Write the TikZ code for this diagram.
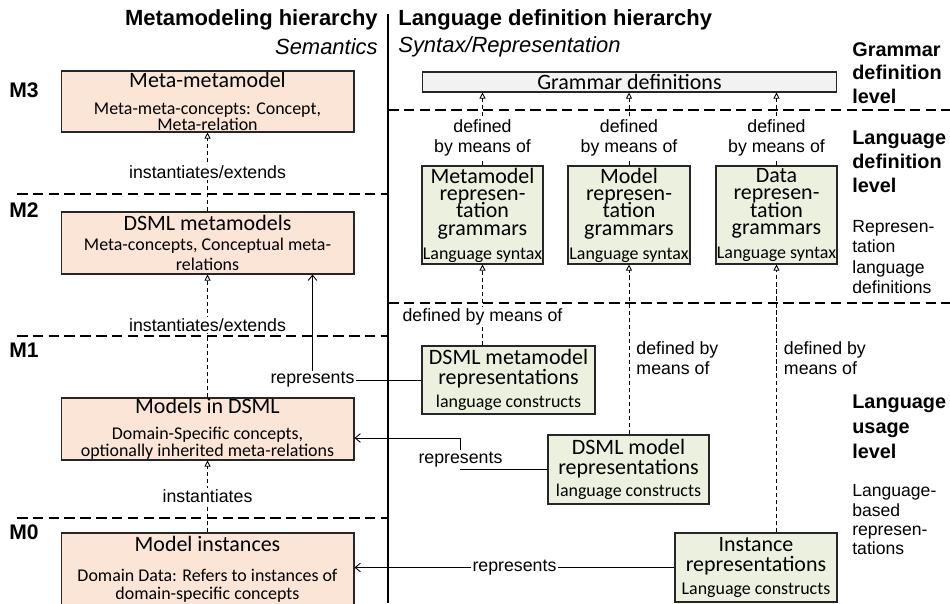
\documentclass[tikz,border=0pt]{standalone}
\usepackage{fontspec}
\setmainfont{Liberation Sans}
\newfontfamily\calibri{Carlito}
\usepackage{xcolor}
\usetikzlibrary{arrows.meta, calc}
\definecolor{peach}{HTML}{FBE5D6}
\definecolor{sage}{HTML}{EBF1DE}
\definecolor{lgray}{HTML}{F2F2F2}
\newcommand{\tightfont}[1]{\fontsize{#1}{0pt}\selectfont\lineskiplimit=-\maxdimen}
\newcommand{\bigtxt}[1]{{\fontsize{12.5pt}{0pt}\selectfont #1}}

\begin{document}
\begin{tikzpicture}[x=0.02cm, y=-0.02cm,
  semb/.style={draw=black!85, line width=0.6pt, fill=peach, inner sep=0pt,
    minimum width=5.86cm, align=center, font=\calibri\tightfont{10.2pt}},
  synb/.style={draw=black!85, line width=0.6pt, fill=sage, inner sep=0pt,
    align=center, font=\calibri\tightfont{10.2pt}},
  lab/.style={font=\tightfont{10.1pt}, align=center, inner sep=1pt},
  wlab/.style={lab, fill=white},
  head/.style={font=\fontsize{12.5pt}{15pt}\selectfont, inner sep=0pt},
  mlevel/.style={font=\fontsize{12pt}{14pt}\selectfont\bfseries, anchor=west, inner sep=0pt},
  sidebold/.style={font=\tightfont{11.3pt}\bfseries, align=left, anchor=west, inner sep=0pt},
  sidereg/.style={font=\tightfont{10pt}, align=left, anchor=west, inner sep=0pt},
  levelline/.style={dash pattern=on 6pt off 3pt, line width=0.8pt},
  dasharrow/.style={dash pattern=on 2.5pt off 1.5pt, line width=0.5pt,
    -{Triangle[open, length=3.5pt, width=3.5pt]}},
  repr/.style={line width=0.5pt, -{Straight Barb[length=3pt, width=5pt]}}]

\useasboundingbox (0,0) rectangle (950,603);

\node[head, font=\fontsize{12.5pt}{15pt}\selectfont\bfseries, anchor=east] (mhead) at (378,20) {Metamodeling hierarchy};
\node[head, font=\fontsize{12.5pt}{15pt}\selectfont\itshape, anchor=east] (msub) at (378,47) {Semantics};
\node[head, font=\fontsize{12.5pt}{15pt}\selectfont\bfseries, anchor=west] (lhead) at (398,20) {Language definition hierarchy};
\node[head, font=\fontsize{12.5pt}{15pt}\selectfont\itshape, anchor=west] (lsub) at (398,47) {Syntax/Representation};

\draw[line width=1pt] (388,14) -- (388,603);
\draw[levelline] (17,194) -- (388,194);
\draw[levelline] (17,336) -- (388,336);
\draw[levelline] (17,518) -- (388,518);
\draw[levelline] (388,110) -- (950,110);
\draw[levelline] (388,303) -- (950,303);

\node[mlevel] (m3) at (9,90) {M3};
\node[mlevel] (m2) at (9,210) {M2};
\node[mlevel] (m1) at (9,350) {M1};
\node[mlevel] (m0) at (9,532) {M0};

\node[sidebold] (glev) at (852,73) {Grammar\\[13.3pt]definition\\[13.3pt]level};
\node[sidebold] (ldlev) at (852,162) {Language\\[13.6pt]definition\\[13.6pt]level};
\node[sidereg] (ldtxt) at (852,257) {Represen-\\[11.5pt]tation\\[11.5pt]language\\[11.5pt]definitions};
\node[sidebold] (lulev) at (852,427) {Language\\[14.2pt]usage\\[14.2pt]level};
\node[sidereg] (lutxt) at (852,520) {Language-\\[11pt]based\\[11pt]represen-\\[11pt]tations};

\node[semb, minimum height=1.22cm] (mmm) at (207.5,101.5) {\bigtxt{Meta-metamodel}\\[15.3pt]Meta-meta-concepts: Concept,\\[9pt]Meta-relation};
\node[semb, minimum height=1.24cm] (dsmm) at (207.5,243) {\bigtxt{DSML metamodels}\\[11.3pt]Meta-concepts, Conceptual meta-\\[11.3pt]relations};
\node[semb, minimum height=1.24cm] (mdsml) at (207.5,429) {\bigtxt{Models in DSML}\\[14.7pt]Domain-Specific concepts,\\[9.6pt]optionally inherited meta-relations};
\node[semb, minimum height=1.44cm] (minst) at (207.5,569) {\bigtxt{Model instances}\\[17pt]Domain Data: Refers to instances of\\[10.2pt]domain-specific concepts};

\node[draw=black!85, line width=0.6pt, fill=lgray, inner sep=0pt, minimum width=8.3cm, minimum height=0.4cm,
  font=\calibri\fontsize{12.5pt}{15pt}\selectfont] (gram) at (629.5,82) {Grammar definitions};
\node[synb, minimum width=2.42cm, minimum height=1.96cm] (g1) at (482.5,215)
  {\bigtxt{Metamodel}\\[9.9pt]\bigtxt{represen-}\\[9.9pt]\bigtxt{tation}\\[9.9pt]\bigtxt{grammars}\\[13.6pt]Language syntax};
\node[synb, minimum width=2.44cm, minimum height=1.96cm] (g2) at (629,215)
  {\bigtxt{Model}\\[9.9pt]\bigtxt{represen-}\\[9.9pt]\bigtxt{tation}\\[9.9pt]\bigtxt{grammars}\\[13.6pt]Language syntax};
\node[synb, minimum width=2.42cm, minimum height=1.96cm] (g3) at (776.5,215)
  {\bigtxt{Data}\\[9.9pt]\bigtxt{represen-}\\[9.9pt]\bigtxt{tation}\\[9.9pt]\bigtxt{grammars}\\[13.6pt]Language syntax};

\node[synb, minimum width=3.46cm, minimum height=1.36cm] (rmm) at (508.5,380)
  {\bigtxt{DSML metamodel}\\[11.3pt]\bigtxt{representations}\\[13pt]language constructs};
\node[synb, minimum width=3.22cm, minimum height=1.38cm] (rmod) at (628.5,469.5)
  {\bigtxt{DSML model}\\[11.3pt]\bigtxt{representations}\\[13pt]language constructs};
\node[synb, minimum width=3.24cm, minimum height=1.38cm] (rinst) at (756,567.5)
  {\bigtxt{Instance}\\[11.3pt]\bigtxt{representations}\\[13pt]Language constructs};

\draw[dasharrow] (dsmm.north) -- node[wlab, midway] (ie1) {instantiates/extends} (mmm.south);
\draw[dasharrow] (mdsml.north) -- node[wlab, pos=0.59] (ie2) {instantiates/extends} (dsmm.south);
\draw[dasharrow] (minst.north) -- node[wlab, midway] (inst) {instantiates} (mdsml.south);

\draw[dasharrow] (g1.north) -- node[wlab, pos=0.38] (d1) {defined\\[11.3pt]by means of} (g1.north |- gram.south);
\draw[dasharrow] (g2.north) -- node[wlab, pos=0.38] (d2) {defined\\[11.3pt]by means of} (g2.north |- gram.south);
\draw[dasharrow] (g3.north) -- node[wlab, pos=0.38] (d3) {defined\\[11.3pt]by means of} (g3.north |- gram.south);
\draw[dasharrow] (g1.south |- rmm.north) -- node[wlab, pos=0.35] (d4) {defined by means of} (g1.south);
\draw[dasharrow] (g2.south |- rmod.north) -- node[lab, align=left, pos=0.45, right=3pt] (d5) {defined by\\[11.3pt]means of} (g2.south);
\draw[dasharrow] (g3.south |- rinst.north) -- node[lab, align=left, pos=0.65, right=3pt] (d6) {defined by\\[11.3pt]means of} (g3.south);

\draw[repr] (rmm.west) -| node[wlab, pos=0.5] (r1) {represents} ([xshift=-0.84cm]dsmm.south east);
\draw[repr] (rmod.west) -- ++(-87,0) node[wlab, yshift=0.2cm] (r2) {represents} |- ([yshift=-0.18cm]mdsml.east);
\draw[repr] (rinst.west) -- node[wlab, midway] (r3) {represents} (rinst.west -| minst.east);
\end{tikzpicture}
\end{document}
